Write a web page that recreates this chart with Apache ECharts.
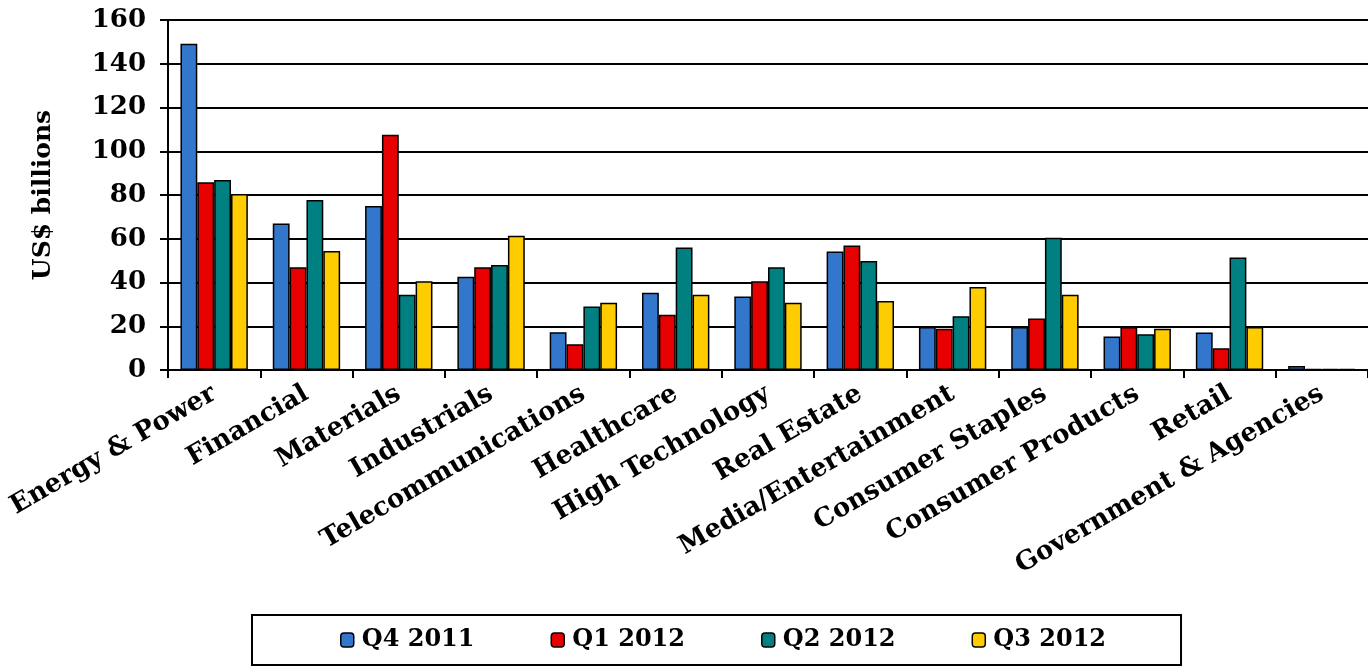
<!DOCTYPE html>
<html>
<head>
<meta charset="utf-8">
<script src="https://cdn.jsdelivr.net/npm/echarts@6/dist/echarts.min.js"></script>
<style>
  html, body { margin: 0; padding: 0; background: #fff; }
  #chart { width: 1368px; height: 667px; }
</style>
</head>
<body>
<div id="chart"></div>
<script>
// Sector categories along the x axis
const sectors = [
  'Energy & Power', 'Financial', 'Materials', 'Industrials', 'Telecommunications',
  'Healthcare', 'High Technology', 'Real Estate', 'Media/Entertainment',
  'Consumer Staples', 'Consumer Products', 'Retail', 'Government & Agencies'
];

// Quarterly values, US$ billions
const q4_2011 = [149.2, 67.0, 75.0, 42.6, 17.3, 35.3, 33.6, 54.2, 19.7, 19.7, 15.3, 17.1, 1.8];
const q1_2012 = [85.8, 47.0, 107.6, 47.0, 11.8, 25.3, 40.6, 56.9, 18.9, 23.5, 19.7, 9.9, 0.5];
const q2_2012 = [86.9, 77.7, 34.4, 48.0, 29.0, 56.0, 47.0, 49.8, 24.6, 60.5, 16.3, 51.4, 0.5];
const q3_2012 = [80.5, 54.4, 40.6, 61.4, 30.7, 34.4, 30.7, 31.6, 38.0, 34.4, 18.9, 19.7, 0.5];

const seriesNames = ['Q4 2011', 'Q1 2012', 'Q2 2012', 'Q3 2012'];
const seriesColors = ['#3377CC', '#E60000', '#008080', '#FFCC00'];
const seriesValues = [q4_2011, q1_2012, q2_2012, q3_2012];

// Y axis scale
const yMin = 0, yMax = 160, yStep = 20;

const FONT = '"DejaVu Serif", serif';

const chart = echarts.init(document.getElementById('chart'), null, { renderer: 'canvas' });

chart.setOption({
  animation: false,
  backgroundColor: '#fff',
  grid: { left: 168, top: 20, width: 1205, bottom: 297, containLabel: false },
  legend: {
    data: seriesNames,
    left: 252,
    top: 615,
    itemWidth: 13,
    itemHeight: 14,
    itemGap: 76,
    padding: [13, 75, 13, 88],
    borderColor: '#000',
    borderWidth: 2,
    backgroundColor: '#fff',
    textStyle: { fontFamily: FONT, fontWeight: 'bold', fontSize: 24, color: '#000', padding: [0, 0, 0, 3] },
    itemStyle: { borderColor: '#000', borderWidth: 1.5 }
  },
  xAxis: {
    type: 'category',
    data: sectors,
    boundaryGap: true,
    axisLine: { lineStyle: { color: '#000', width: 2 } },
    axisTick: { show: true, length: 8, lineStyle: { color: '#000', width: 2 } },
    axisLabel: {
      interval: 0,
      rotate: 30,
      margin: 22,
      fontFamily: FONT,
      fontWeight: 'bold',
      fontSize: 26,
      color: '#000'
    }
  },
  yAxis: {
    type: 'value',
    min: yMin,
    max: yMax,
    interval: yStep,
    name: 'US$ billions',
    nameLocation: 'middle',
    nameRotate: 90,
    nameGap: 112,
    nameTextStyle: { fontFamily: FONT, fontWeight: 'bold', fontSize: 25, color: '#000' },
    axisLine: { show: true, lineStyle: { color: '#000', width: 2 } },
    axisTick: { show: true, length: 8, lineStyle: { color: '#000', width: 2 } },
    axisLabel: { margin: 22, fontFamily: FONT, fontWeight: 'bold', fontSize: 26, color: '#000' },
    splitLine: { show: true, lineStyle: { color: '#000', width: 2 } }
  },
  series: seriesValues.map((vals, i) => ({
    name: seriesNames[i],
    type: 'bar',
    data: vals,
    barGap: '0%',
    barCategoryGap: '27%',
    itemStyle: { color: seriesColors[i], borderColor: '#000', borderWidth: 1.5 }
  }))
});
</script>
</body>
</html>
